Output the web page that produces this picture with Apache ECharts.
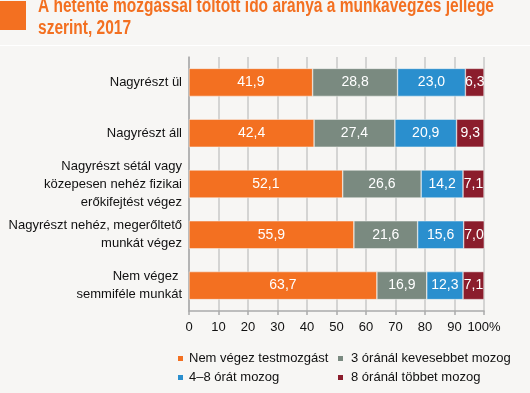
<!DOCTYPE html>
<html><head><meta charset="utf-8">
<script src="https://cdn.jsdelivr.net/npm/echarts@6/dist/echarts.min.js"></script>
<style>
html,body{margin:0;padding:0;background:#f7f6f4;}
#c{width:530px;height:393px;}
</style></head><body>
<div id="c"></div>
<script>
var categories = ["Nagyrészt ül", "Nagyrészt áll", "Nagyrészt sétál vagy\nközepesen nehéz fizikai\nerőkifejtést végez", "Nagyrészt nehéz, megerőltető\nmunkát végez", "Nem végez \nsemmiféle munkát"];
var seriesNames = ["Nem végez testmozgást", "3 óránál kevesebbet mozog", "4–8 órát mozog", "8 óránál többet mozog"];
var noExercise = [41.9, 42.4, 52.1, 55.9, 63.7];
var lessThan3 = [28.8, 27.4, 26.6, 21.6, 16.9];
var from4to8 = [23.0, 20.9, 14.2, 15.6, 12.3];
var moreThan8 = [6.3, 9.3, 7.1, 7.0, 7.1];
var xTicks = [0, 10, 20, 30, 40, 50, 60, 70, 80, 90, 100];
var titleLine1 = "A hetente mozgással töltött idő aránya a munkavégzés jellege";
var titleLine2 = "szerint, 2017";

var colors = ["#f37021", "#7a8a80", "#2a8fce", "#8b1d2c"];
var values = [noExercise, lessThan3, from4to8, moreThan8];
var chart = echarts.init(document.getElementById('c'));
var fontF = "'Liberation Sans', Arial, sans-serif";
var titleFont = "bold 20px 'Liberation Sans', Arial, sans-serif";
var cv = document.createElement('canvas').getContext('2d');
cv.font = titleFont;
var sx = 456 / cv.measureText(titleLine1).width;

var series = seriesNames.map(function(n, i){
  return {
    name: n, type: 'bar', stack: 'total', barWidth: 28,
    data: values[i],
    itemStyle: {color: colors[i], borderColor: '#f7f6f4', borderWidth: 0.5},
    label: {show: true, position: 'inside', color: '#fff', fontSize: 14, fontFamily: fontF,
      formatter: function(p){ return p.value.toFixed(1).replace('.', ','); }}
  };
});
chart.setOption({
  animation: false,
  backgroundColor: '#f7f6f4',
  color: colors,
  graphic: [
    {type: 'rect', shape: {x: 0, y: 1, width: 26, height: 29}, style: {fill: '#f37021'}},
    {type: 'rect', shape: {x: 0, y: 45, width: 530, height: 1}, style: {fill: '#ffffff'}},
    {type: 'text', x: 38, y: 6, scaleX: sx, style: {text: titleLine1, fill: '#f37021', font: titleFont, verticalAlign: 'middle'}},
    {type: 'text', x: 38, y: 28.5, scaleX: sx, style: {text: titleLine2, fill: '#f37021', font: titleFont, verticalAlign: 'middle'}}
  ],
  grid: {left: 189, right: 46, top: 57, bottom: 82},
  legend: [
    {data: [seriesNames[0], seriesNames[2]], orient: 'vertical', left: 171, top: 347,
      icon: 'rect', itemWidth: 7, itemHeight: 7, itemGap: 6,
      textStyle: {fontSize: 13, fontFamily: fontF, color: '#111', padding: [0,0,0,0]}},
    {data: [seriesNames[1], seriesNames[3]], orient: 'vertical', left: 331, top: 347,
      icon: 'rect', itemWidth: 7, itemHeight: 7, itemGap: 6,
      textStyle: {fontSize: 13, fontFamily: fontF, color: '#111', padding: [0,0,0,2]}}
  ],
  xAxis: {
    type: 'value', min: 0, max: 100, interval: 10,
    axisLine: {show: true, lineStyle: {color: '#aaaaaa', width: 1.5}},
    axisTick: {show: true, length: 4, lineStyle: {color: '#aaaaaa', width: 1.5}},
    splitLine: {show: true, lineStyle: {color: '#c8c8c8', width: 1.5}},
    axisLabel: {fontSize: 13, fontFamily: fontF, color: '#111', margin: 10,
      formatter: function(v){ return v === 100 ? '100%' : String(v); }}
  },
  yAxis: {
    type: 'category', data: categories, inverse: true,
    axisLine: {show: true, lineStyle: {color: '#aaaaaa', width: 1.5}},
    axisTick: {show: false},
    axisLabel: {fontSize: 13, fontFamily: fontF, color: '#111', lineHeight: 18, margin: 7}
  },
  series: series
});
</script>
</body></html>
